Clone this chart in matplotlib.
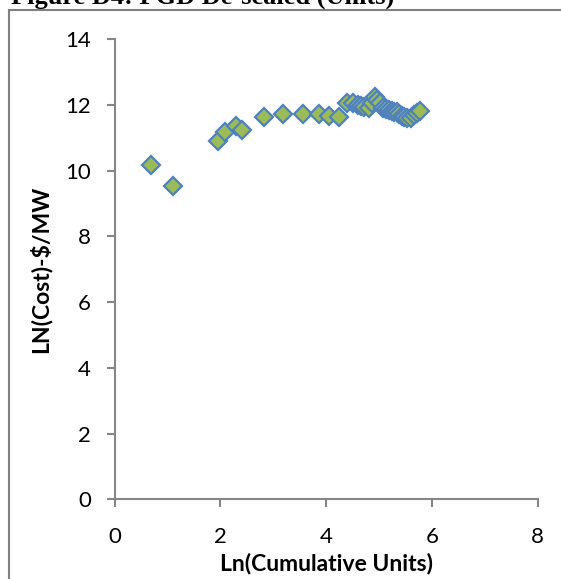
import matplotlib
matplotlib.use("Agg")
import matplotlib.pyplot as plt
from matplotlib.lines import Line2D

ln_units = [0.69, 1.10, 1.95, 2.08, 2.30, 2.40, 2.83, 3.18, 3.56, 3.87, 4.06, 4.25,
            4.39, 4.51, 4.60, 4.66, 4.72, 4.80, 4.87, 4.92, 4.97, 5.02, 5.08, 5.14,
            5.19, 5.24, 5.29, 5.33, 5.38, 5.43, 5.48, 5.53, 5.60, 5.66, 5.72, 5.78]
ln_cost = [10.17, 9.54, 10.90, 11.17, 11.37, 11.24, 11.64, 11.73, 11.73, 11.73, 11.66, 11.64,
           12.05, 12.05, 12.00, 11.98, 11.95, 11.92, 12.05, 12.25, 12.15, 12.05, 11.92, 11.87,
           11.85, 11.82, 11.80, 11.78, 11.72, 11.68, 11.64, 11.62, 11.62, 11.70, 11.75, 11.82]
x_ticks = [0, 2, 4, 6, 8]
y_ticks = [0, 2, 4, 6, 8, 10, 12, 14]
title = "Figure D4: FGD De-scaled (Units)"
x_label = "Ln(Cumulative Units)"
y_label = "LN(Cost)-$/MW"

W, H = 561, 579
fig = plt.figure(figsize=(W / 100, H / 100), dpi=100)
plt.rcParams['font.family'] = ['Lato', 'DejaVu Sans']

ax = fig.add_axes([114.7 / W, 1 - 499.3 / H, (537.7 - 114.7) / W, (499.3 - 39.3) / H])
ax.plot(ln_units, ln_cost, linestyle='none', marker='D', markersize=9.2,
        markerfacecolor='#9BBB59', markeredgecolor='#4F81BD', markeredgewidth=1.6)
ax.set_xlim(0, 8)
ax.set_ylim(0, 14)
ax.set_xticks(x_ticks)
ax.set_yticks(y_ticks)
for s in ['top', 'right']:
    ax.spines[s].set_visible(False)
for s in ['left', 'bottom']:
    ax.spines[s].set_color('#868686')
    ax.spines[s].set_linewidth(1.5)
ax.tick_params(direction='out', length=6, width=1.5, color='#868686',
               labelsize=16, labelcolor='black')
ax.tick_params(axis='y', pad=11)
ax.tick_params(axis='x', pad=14)
ax.set_xlabel(x_label, fontsize=16.5, fontweight='bold', labelpad=4)
ax.set_ylabel(y_label, fontsize=16.5, fontweight='bold', labelpad=10)

fig.text(11 / W, 1 - 4 / H, title, family='Liberation Serif', fontweight='bold',
         fontsize=19, va='baseline', ha='left')
fig.add_artist(Line2D([9 / W, 1], [1 - 9.5 / H, 1 - 9.5 / H], color='#808080', lw=1.5,
                      transform=fig.transFigure))
fig.add_artist(Line2D([9 / W, 9 / W], [1 - 9.5 / H, 0], color='#808080', lw=1.5,
                      transform=fig.transFigure))

fig.savefig('out.png', dpi=100)
